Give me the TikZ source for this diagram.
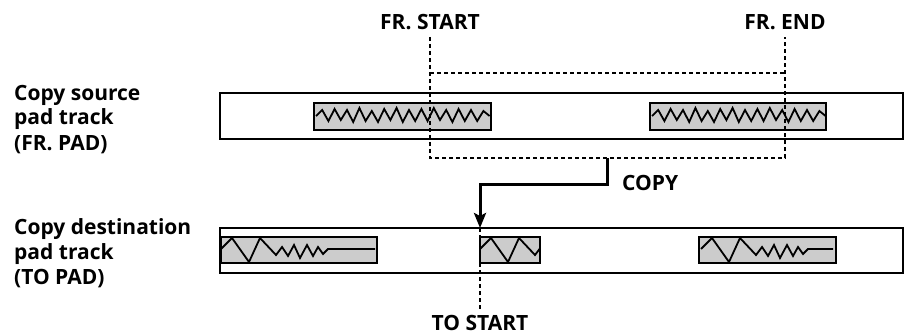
\documentclass[tikz,border=0pt]{standalone}
\usepackage{fontspec}
\setmainfont{Open Sans}
\usepackage{tikz}
\usetikzlibrary{arrows.meta}

\tikzset{
  track/.style={draw,line width=2pt,fill=white},
  padblock/.style={draw,line width=2pt,fill=gray!40},
  wave/.style={line width=1.8pt,line join=miter},
  guide/.style={line width=1.8pt,dash pattern=on 4pt off 3pt},
  copyarrow/.style={line width=3pt,-{Stealth[length=15pt,width=12pt,inset=3pt]}},
  lbl/.style={font=\fontsize{21}{25}\selectfont\bfseries,inner sep=0pt}
}

% small zigzag of the source pads: #1 = left x, #2 = centre y
\newcommand{\srcwave}[2]{%
  \draw[wave] (#1,#2) \foreach \dy [count=\i] in
    {-6,5,-7,4,-6,6,-8,5,-5,6,-7,4,-8,6,-6,5,-7,5,-8,4,-6,6,-7,5,-6,5,-5,0}
    { -- (#1+\i*6.2,#2+\dy) };
}
% big triangles, then small zigzag, then flat: #1 = left x, #2 = right x, #3 = centre y
\newcommand{\dstwave}[3]{%
  \draw[wave] (#1,#3) -- ++(11,-11) -- ++(17,24) -- ++(11,-24) -- ++(16,17)
    -- ++(6,-8) -- ++(6,9) -- ++(6,-11) -- ++(6,13) -- ++(7,-13) -- ++(6,11)
    -- ++(5,-9) -- ++(5,7) -- ++(5,-5) -- (#2,#3);
}

\begin{document}
\begin{tikzpicture}[x=1pt,y=-1pt]
  \useasboundingbox (0,0) rectangle (905,334);

  % source pad track
  \node[lbl,anchor=base west,align=left] (srclabel) at (14,150)
    {Copy source\\pad track\\(FR. PAD)};
  \draw[track] (220,93) rectangle (903,139);
  \draw[padblock] (314,103) rectangle (491,130);
  \srcwave{316}{116}
  \draw[padblock] (650,103) rectangle (826,130);
  \srcwave{652}{116}

  % destination pad track
  \node[lbl,anchor=base west,align=left] (dstlabel) at (14,284)
    {Copy destination\\pad track\\(TO PAD)};
  \draw[track] (220,228) rectangle (903,273);
  \draw[padblock] (221,237) rectangle (377,263);
  \dstwave{221}{375}{249}
  \draw[padblock] (480,237) rectangle (540,263);
  \begin{scope}
    \clip (480,237) rectangle (540,263);
    \dstwave{480}{540}{249}
  \end{scope}
  \draw[line width=2pt] (480,237) rectangle (540,263);
  \draw[padblock] (699,237) rectangle (836,263);
  \dstwave{701}{833}{249}

  % copy range
  \node[lbl,anchor=base] (frstartlbl) at (430,30) {FR. START};
  \node[lbl,anchor=base] (frendlbl) at (785,30) {FR. END};
  \coordinate (frstart) at (430,37);
  \coordinate (frend) at (785,37);
  \coordinate (frlow) at (785,158);
  \draw[guide] (frstart) |- (frlow) -- (frend);
  \draw[guide] (430,73) -- (785,73);

  % copy arrow
  \coordinate (copyfrom) at (607,158);
  \coordinate (copybend) at (607,184);
  \coordinate (tostart) at (480,228);
  \coordinate (tolow) at (480,310);
  \draw[copyarrow] (copyfrom) -- (copybend) -| (tostart);
  \node[lbl,anchor=base west] (copylbl) at (622,190) {COPY};
  \draw[guide] (tostart) -- (tolow);
  \node[lbl,anchor=base] (tostartlbl) at (480,330) {TO START};
\end{tikzpicture}
\end{document}
